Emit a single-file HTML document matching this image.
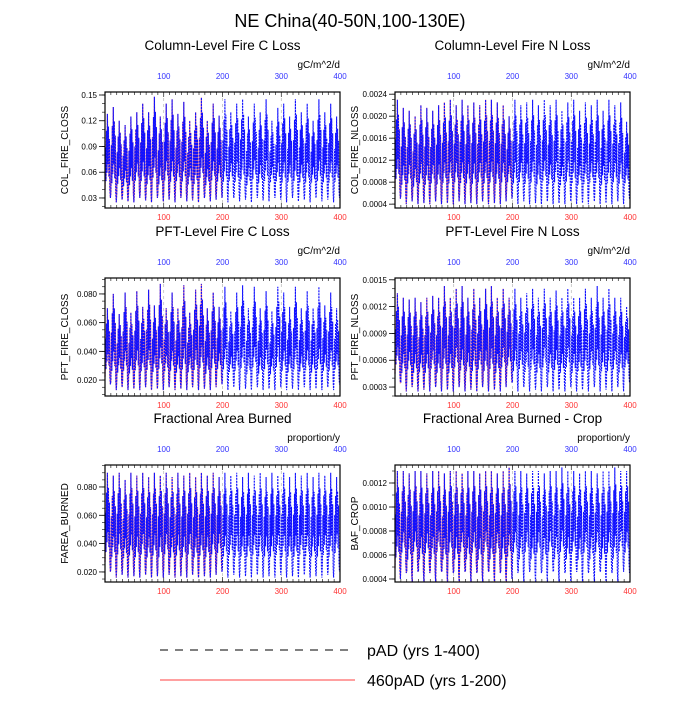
<!DOCTYPE html>
<html><head><meta charset="utf-8"><style>
body{margin:0;background:#fff}
svg text{font-family:"Liberation Sans",sans-serif}
</style></head><body>
<svg id="chart" width="700" height="700" viewBox="0 0 700 700" xmlns="http://www.w3.org/2000/svg">
<text x="350" y="27" font-size="18" text-anchor="middle">NE China(40-50N,100-130E)</text>
<g id="panels"></g>
<line x1="160" y1="650" x2="355" y2="650" stroke="#000" stroke-width="1" stroke-dasharray="8,7"/>
<text x="367" y="656" font-size="16">pAD (yrs 1-400)</text>
<line x1="160" y1="680" x2="355" y2="680" stroke="#f00" stroke-width="0.8"/>
<text x="367" y="686" font-size="16">460pAD (yrs 1-200)</text>
</svg>
<script>
// shared x-axis data
const xTicks = [100, 200, 300, 400];
const xDomain = [0, 400];
// within-cycle normalized shape (fraction between trough and peak)
const cycleShape = [0.1, 0.6, 0.2, 0.8, 0.3, 1.0, 0.4, 0.85, 0.25, 0.7, 0.1, 0.0];
// per-cycle peaks (40 cycles of 10 yrs) for each panel
const peaksColC = [0.128,0.136,0.12,0.115,0.125,0.13,0.14,0.13,0.148,0.125,0.14,0.145,0.128,0.142,0.12,0.13,0.147,0.12,0.14,0.126,0.145,0.13,0.14,0.145,0.125,0.14,0.13,0.145,0.12,0.135,0.14,0.125,0.145,0.13,0.14,0.12,0.145,0.13,0.14,0.125];
const troughsColC = [0.03,0.025,0.028,0.026,0.025,0.03,0.027,0.025,0.03,0.026,0.028,0.025,0.03,0.026,0.027,0.025,0.03,0.026,0.028,0.03,0.025,0.03,0.026,0.028,0.025,0.03,0.027,0.026,0.03,0.028,0.025,0.03,0.026,0.028,0.025,0.03,0.026,0.028,0.025,0.03];
const peaksColN = [0.0023,0.00215,0.0021,0.002,0.0022,0.00215,0.0021,0.0022,0.00225,0.0023,0.0022,0.0023,0.0022,0.00225,0.0022,0.0023,0.0023,0.00225,0.0022,0.002,0.0023,0.0022,0.00225,0.0023,0.0022,0.0023,0.0022,0.0023,0.0021,0.00225,0.0023,0.0021,0.00225,0.0022,0.0023,0.0021,0.0023,0.0022,0.00225,0.0019];
const troughsColN = [0.0005,0.0004,0.00045,0.0004,0.00042,0.0004,0.00045,0.0004,0.00042,0.0004,0.00045,0.0004,0.00042,0.0004,0.00045,0.0004,0.00042,0.0004,0.00045,0.0005,0.0004,0.00045,0.0004,0.00042,0.0004,0.00045,0.0004,0.00042,0.0004,0.00045,0.0004,0.00042,0.0004,0.00045,0.0004,0.00042,0.0004,0.00045,0.0004,0.0005];
const peaksPftC = [0.07,0.08,0.066,0.081,0.067,0.082,0.071,0.083,0.072,0.087,0.07,0.081,0.07,0.086,0.067,0.083,0.087,0.07,0.081,0.071,0.085,0.068,0.081,0.086,0.07,0.085,0.07,0.082,0.068,0.085,0.081,0.071,0.085,0.07,0.082,0.07,0.085,0.072,0.081,0.07];
const troughsPftC = [0.017,0.013,0.015,0.013,0.014,0.013,0.015,0.013,0.014,0.013,0.015,0.013,0.014,0.013,0.015,0.013,0.014,0.013,0.015,0.017,0.013,0.015,0.013,0.014,0.013,0.015,0.013,0.014,0.013,0.015,0.013,0.014,0.013,0.015,0.013,0.014,0.013,0.015,0.013,0.017];
const peaksPftN = [0.00135,0.0013,0.00128,0.0013,0.00125,0.0013,0.00132,0.0013,0.00143,0.0013,0.0014,0.00143,0.0013,0.0014,0.0013,0.0014,0.00143,0.0013,0.0014,0.0013,0.0014,0.0013,0.00135,0.0014,0.0013,0.0014,0.0013,0.00138,0.0013,0.0014,0.0013,0.0013,0.0014,0.0013,0.00143,0.0013,0.0014,0.0013,0.0013,0.0012];
const troughsPftN = [0.00035,0.00025,0.0003,0.00025,0.00027,0.00025,0.0003,0.00025,0.00027,0.00025,0.0003,0.00025,0.00027,0.00025,0.0003,0.00025,0.00027,0.00025,0.0003,0.00035,0.00025,0.0003,0.00025,0.00027,0.00025,0.0003,0.00025,0.00027,0.00025,0.0003,0.00025,0.00027,0.00025,0.0003,0.00025,0.00027,0.00025,0.0003,0.00025,0.00035];
const peaksFarea = [0.09,0.088,0.09,0.085,0.09,0.088,0.09,0.087,0.09,0.088,0.09,0.087,0.09,0.088,0.09,0.087,0.09,0.088,0.09,0.087,0.09,0.088,0.09,0.087,0.09,0.088,0.09,0.087,0.09,0.088,0.09,0.087,0.09,0.088,0.09,0.087,0.09,0.088,0.09,0.087];
const troughsFarea = [0.02,0.016,0.018,0.016,0.017,0.016,0.018,0.016,0.017,0.016,0.018,0.016,0.017,0.016,0.018,0.016,0.017,0.016,0.018,0.02,0.016,0.018,0.016,0.017,0.016,0.018,0.016,0.017,0.016,0.018,0.016,0.017,0.016,0.018,0.016,0.017,0.016,0.018,0.016,0.02];
const peaksCrop = [0.0013,0.0013,0.00128,0.0013,0.0013,0.00128,0.0013,0.0013,0.00128,0.0013,0.0013,0.00128,0.0013,0.0013,0.00128,0.0013,0.0013,0.00128,0.0013,0.00133,0.0013,0.0013,0.00128,0.0013,0.0013,0.00128,0.0013,0.0013,0.00133,0.0013,0.0013,0.00128,0.0013,0.0013,0.00128,0.0013,0.0013,0.00133,0.0013,0.0013];
const troughsCrop = [0.0004,0.00045,0.00038,0.00046,0.00038,0.00045,0.00038,0.00046,0.00038,0.00045,0.00038,0.00046,0.00038,0.00045,0.00038,0.00046,0.00038,0.00045,0.00038,0.0004,0.00045,0.00038,0.00046,0.00038,0.00045,0.00038,0.00046,0.00038,0.00045,0.00038,0.00046,0.00038,0.00045,0.00038,0.00046,0.00038,0.00045,0.00038,0.00046,0.00045];
// y tick labels per panel
const ticksColC = ["0.03","0.06","0.09","0.12","0.15"];
const ticksColN = ["0.0004","0.0008","0.0012","0.0016","0.0020","0.0024"];
const ticksPftC = ["0.020","0.040","0.060","0.080"];
const ticksPftN = ["0.0003","0.0006","0.0009","0.0012","0.0015"];
const ticksFarea = ["0.020","0.040","0.060","0.080"];
const ticksCrop = ["0.0004","0.0006","0.0008","0.0010","0.0012"];

const panels = [
 {name:'col-fire-c',title:'Column-Level Fire C Loss',unit:'gC/m^2/d',ylab:'COL_FIRE_CLOSS',L:105,R:340,T:92,B:208,y0:0.0183,y1:0.1535,ticks:ticksColC,minor:0.01,peaks:peaksColC,troughs:troughsColC},
 {name:'col-fire-n',title:'Column-Level Fire N Loss',unit:'gN/m^2/d',ylab:'COL_FIRE_NLOSS',L:395,R:630,T:92,B:208,y0:0.00033,y1:0.00244,ticks:ticksColN,minor:0.0001,peaks:peaksColN,troughs:troughsColN},
 {name:'pft-fire-c',title:'PFT-Level Fire C Loss',unit:'gC/m^2/d',ylab:'PFT_FIRE_CLOSS',L:105,R:340,T:278,B:396,y0:0.0089,y1:0.0911,ticks:ticksPftC,minor:0.005,peaks:peaksPftC,troughs:troughsPftC},
 {name:'pft-fire-n',title:'PFT-Level Fire N Loss',unit:'gN/m^2/d',ylab:'PFT_FIRE_NLOSS',L:395,R:630,T:278,B:396,y0:0.0002,y1:0.00152,ticks:ticksPftN,minor:0.0001,peaks:peaksPftN,troughs:troughsPftN},
 {name:'farea-burned',title:'Fractional Area Burned',unit:'proportion/y',ylab:'FAREA_BURNED',L:105,R:340,T:465,B:582,y0:0.0129,y1:0.0955,ticks:ticksFarea,minor:0.005,peaks:peaksFarea,troughs:troughsFarea},
 {name:'baf-crop',title:'Fractional Area Burned - Crop',unit:'proportion/y',ylab:'BAF_CROP',L:395,R:630,T:465,B:582,y0:0.000375,y1:0.00135,ticks:ticksCrop,minor:0.0001,peaks:peaksCrop,troughs:troughsCrop},
];
const NS='http://www.w3.org/2000/svg';
const root=document.getElementById('panels');
function mk(tag,attrs,parent){const e=document.createElementNS(NS,tag);for(const k in attrs)e.setAttribute(k,attrs[k]);parent.appendChild(e);return e;}
panels.forEach(p=>{
 const g=mk('g',{},root);
 
 
 const sx=v=>p.L+(v-xDomain[0])/(xDomain[1]-xDomain[0])*(p.R-p.L);
 const sy=v=>p.B-(v-p.y0)/(p.y1-p.y0)*(p.B-p.T);
 const cx=(p.L+p.R)/2;
 const t=mk('text',{x:cx,y:p.T-42,'font-size':13.5,'text-anchor':'middle'},g);t.textContent=p.title;
 
 
 const u=mk('text',{x:p.R,y:p.T-24,'font-size':10,'text-anchor':'end'},g);u.textContent=p.unit;
 
 
 [100,200,300].forEach(v=>{const l=mk('line',{x1:sx(v),x2:sx(v),y1:p.T,y2:p.B,stroke:'#aaa','stroke-width':0.6,'stroke-dasharray':'3,3'},g);
  
  });
 xTicks.forEach(v=>{
  const tb=mk('text',{x:sx(v),y:p.B+12,'font-size':8,'text-anchor':'middle',fill:'#f33'},g);tb.textContent=v;
  
  
  const tt=mk('text',{x:sx(v),y:p.T-13,'font-size':8,'text-anchor':'middle',fill:'#33f'},g);tt.textContent=v;
  
  
 });
 for(let v=10;v<400;v+=10){const len=v%100===0?5:3;
  mk('line',{x1:sx(v),x2:sx(v),y1:p.B,y2:p.B-len,stroke:'#000','stroke-width':0.6},g);
  mk('line',{x1:sx(v),x2:sx(v),y1:p.T,y2:p.T+len,stroke:'#000','stroke-width':0.6},g);}
 for(let v=Math.ceil(p.y0/p.minor)*p.minor;v<=p.y1;v+=p.minor){mk('line',{x1:p.L,x2:p.L-3,y1:sy(v),y2:sy(v),stroke:'#000','stroke-width':0.6},g);}
 p.ticks.forEach(s=>{const v=parseFloat(s);
  mk('line',{x1:p.L,x2:p.L-6,y1:sy(v),y2:sy(v),stroke:'#000','stroke-width':0.8},g);
  const yl=mk('text',{x:p.L-8,y:sy(v)+3,'font-size':8,'text-anchor':'end'},g);yl.textContent=s;
  
  });
 const yt=mk('text',{x:0,y:0,'font-size':10,'text-anchor':'middle',transform:`translate(${p.L-37},${(p.T+p.B)/2}) rotate(-90)`},g);yt.textContent=p.ylab;
 
 
 const build=(n)=>{let d='';for(let k=0;k<n;k++){cycleShape.forEach((f,i)=>{const x=k*10+i*10/cycleShape.length;const v=p.troughs[k]+f*(p.peaks[k]-p.troughs[k]);d+=(d?'L':'M')+sx(x).toFixed(1)+','+sy(v).toFixed(1);});}return d;};
 const red=mk('path',{d:build(20),fill:'none',stroke:'#f44','stroke-width':1.2,opacity:0.7},g);
 
 
 const blue=mk('path',{d:build(40),fill:'none',stroke:'#11f','stroke-width':1.1,'stroke-dasharray':'2,1'},g);
 
 
 const box=mk('rect',{x:p.L,y:p.T,width:p.R-p.L,height:p.B-p.T,fill:'none',stroke:'#000','stroke-width':1.2},g);
 
 
});
</script>
</body></html>
